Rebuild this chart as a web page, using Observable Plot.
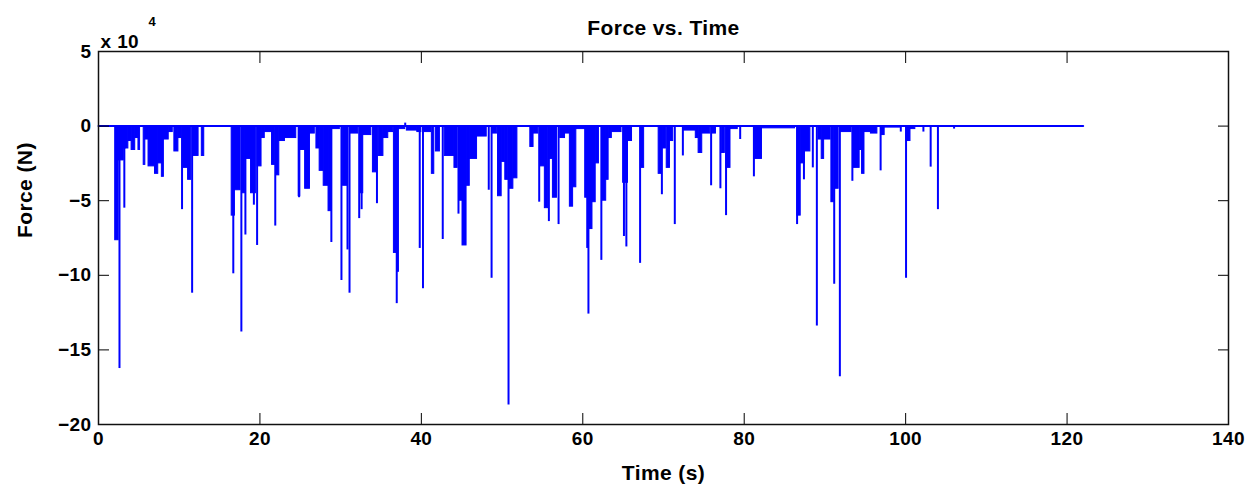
<!DOCTYPE html>
<html>
<head>
<meta charset="utf-8">
<script src="https://cdn.jsdelivr.net/npm/d3@7"></script>
<script src="https://cdn.jsdelivr.net/npm/@observablehq/plot@0.6"></script>
<style>
  html, body { margin: 0; padding: 0; background: #fff; }
  #chart svg { display: block; }
  #chart svg text { font-weight: bold; letter-spacing: 0.4px; }
</style>
</head>
<body>
<div id="chart"></div>
<script>
// Force values are in units of 10^4 N (axis shows "x 10^4")
// Isolated spikes: [time (s), force]
const spikes = [
  [2.6,-16.25],[3.0,-2.3],[3.2,-5.5],[10.35,-5.6],[11.6,-11.2],[16.7,-9.9],[17.7,-13.8],[18.2,-7.3],
  [19.25,-5.3],[19.65,-8.0],[21.9,-6.7],[24.85,-4.8],[28.85,-7.8],[30.1,-10.35],[30.85,-8.3],[31.1,-11.2],
  [32.3,-6.2],[32.6,-5.6],[34.5,-5.2],[36.95,-11.9],[37.1,-9.8],[38.0,0.2],[39.8,-8.2],[40.2,-10.9],
  [42.65,-7.6],[44.6,-5.9],[48.35,-4.3],[48.7,-10.2],[50.8,-18.7],[54.6,-5.1],[55.8,-6.4],[57.0,-6.6],
  [60.55,-8.2],[60.7,-12.6],[62.3,-9.0],[65.1,-7.4],[65.4,-8.1],[67.1,-9.2],[69.8,-4.6],[71.4,-6.6],
  [72.4,-2.0],[75.9,-4.0],[77.05,-4.2],[77.75,-6.0],[79.5,-0.9],[81.2,-3.4],[86.55,-6.6],[87.4,-3.6],
  [88.5,-2.8],[89.0,-13.4],[91.15,-10.6],[91.85,-16.8],[93.4,-3.7],[96.9,-3.0],[99.4,-0.4],[100.05,-10.2],
  [102.2,-0.4],[103.1,-2.75],[104.0,-5.6],[106.0,-0.2]
];
// Dense bursts seen as solid blocks: [start (s), end (s), force]
const bursts = [
  [2.07,2.5,-7.65],[2.5,3.1,-2.3],[3.1,3.35,-1.5],[3.35,3.7,-1.5],[3.7,4.1,-1.0],[4.1,4.55,-1.6],
  [4.55,4.95,-0.8],[4.95,5.15,-1.6],[5.6,5.8,-2.6],[5.8,6.2,-0.9],[6.2,7.0,-2.7],[7.0,7.4,-3.2],
  [7.4,7.85,-2.5],[7.85,8.1,-3.4],[8.1,8.7,-0.9],[8.7,9.2,-0.4],[9.4,9.9,-1.7],[9.9,10.3,-0.8],
  [10.5,11.1,-2.8],[11.1,11.5,-3.6],[11.7,12.4,-2.0],[12.8,13.1,-2.0],[16.5,16.9,-6.0],[16.9,17.6,-4.3],
  [17.8,18.2,-4.5],[18.2,18.9,-2.2],[18.9,19.5,-4.5],[19.7,20.2,-2.7],[20.2,20.6,-0.8],[20.6,21.5,-0.4],
  [21.5,21.9,-2.6],[22.0,22.4,-3.3],[22.4,23.1,-1.0],[23.1,24.5,-0.8],[24.8,25.0,-4.7],[25.0,25.6,-1.6],
  [25.6,26.2,-4.2],[26.2,26.8,-0.5],[27.0,27.4,-1.5],[27.4,27.9,-3.0],[27.9,28.5,-4.0],[28.5,28.8,-5.7],
  [28.8,29.9,-0.2],[30.3,30.9,-4.0],[31.2,32.2,-0.5],[32.4,32.8,-4.5],[32.8,33.8,-0.6],[34.0,34.5,-3.1],
  [34.7,35.3,-2.0],[35.3,35.9,-0.8],[35.9,36.5,-0.4],[36.6,37.1,-8.5],[37.2,38.0,-0.2],[38.2,39.5,-0.3],
  [39.5,40.0,-0.4],[40.3,41.2,-0.4],[41.3,41.6,-3.2],[41.8,42.3,-1.7],[42.9,44.1,-2.0],[44.1,44.5,-2.8],
  [44.7,45.1,-5.0],[45.1,45.6,-8.0],[45.6,46.0,-4.0],[46.0,46.9,-2.2],[46.9,48.1,-0.7],[48.8,49.4,-0.5],
  [49.5,49.95,-4.7],[50.0,50.4,-2.4],[50.4,50.75,-3.6],[50.9,51.4,-4.2],[51.4,51.9,-3.5],[53.5,53.9,-1.4],
  [53.9,54.5,-0.5],[54.7,55.3,-2.7],[55.3,55.7,-5.5],[55.9,56.3,-2.2],[56.3,56.8,-4.8],[57.2,57.8,-0.8],
  [57.8,58.4,-0.5],[58.4,58.8,-5.4],[58.8,59.2,-4.1],[59.2,60.3,-0.2],[60.3,60.6,-4.8],[60.8,61.2,-6.9],
  [61.2,61.6,-5.1],[61.6,62.0,-2.5],[62.4,62.9,-5.0],[62.9,63.2,-3.6],[63.2,63.6,-0.8],[63.6,64.8,-0.4],
  [65.0,65.6,-3.8],[65.6,66.1,-1.0],[67.2,67.6,-2.8],[69.4,69.8,-3.2],[69.9,70.3,-1.5],[70.4,70.8,-2.8],
  [70.8,71.2,-1.0],[72.5,74.0,-0.3],[74.0,74.35,-0.8],[74.35,74.8,-1.8],[74.8,75.8,-0.5],[76.0,76.5,-0.5],
  [77.2,77.6,-1.8],[77.8,78.3,-2.8],[78.3,79.2,-0.2],[81.3,82.2,-2.2],[82.2,86.3,-0.15],[86.6,87.0,-6.0],
  [87.0,87.5,-2.5],[87.5,88.2,-1.7],[89.2,89.6,-0.9],[89.6,89.9,-2.2],[89.9,90.7,-0.9],[90.8,91.1,-5.1],
  [91.2,91.7,-4.2],[91.9,93.3,-0.4],[93.5,94.3,-2.8],[94.3,94.6,-1.6],[94.6,94.9,-3.2],[94.9,95.7,-0.4],
  [95.7,96.5,-0.5],[97.0,97.4,-0.6],[97.4,99.3,-0.1],[100.1,100.6,-1.0],[100.6,101.2,-0.2]
];
// Recording extent (baseline at zero force)
const baseline = [[0, 0], [122, 0]];

const xTicks = [0, 20, 40, 60, 80, 100, 120, 140];
const yTicks = [-20, -15, -10, -5, 0, 5];
const titleText = "Force vs. Time";
const xLabel = "Time (s)";
const yLabel = "Force (N)";
const exponentBase = "x 10";
const exponentPower = "4";

const blue = "#0000ff";
const axisFont = 19;

const chart = Plot.plot({
  width: 1260,
  height: 493,
  marginLeft: 98,
  marginRight: 32,
  marginTop: 51,
  marginBottom: 69,
  style: { fontFamily: "'Liberation Sans', Arial, Helvetica, sans-serif", fontSize: axisFont + "px", color: "#000", background: "#fff" },
  x: { domain: [0, 140] },
  y: { domain: [-20, 5] },
  marks: [
    Plot.rect(bursts, { x1: d => d[0], x2: d => d[1], y1: 0, y2: d => d[2], fill: blue, stroke: blue, strokeWidth: 1 }),
    Plot.ruleX(spikes, { x: d => d[0], y1: 0, y2: d => d[1], stroke: blue, strokeWidth: 2 }),
    Plot.line(baseline, { x: d => d[0], y: d => d[1], stroke: blue, strokeWidth: 2 }),
    // inward ticks, all four sides
    Plot.axisX({ anchor: "bottom", ticks: xTicks, tickSize: 11, dy: -11, tickPadding: 7, label: null, fontSize: axisFont }),
    Plot.axisX({ anchor: "top", ticks: xTicks, tickSize: 11, dy: 11, tickFormat: () => "", label: null }),
    Plot.axisY({ anchor: "left", ticks: yTicks, tickSize: 11, dx: 11, tickPadding: 7, label: null, fontSize: axisFont }),
    Plot.axisY({ anchor: "right", ticks: yTicks, tickSize: 11, dx: -11, tickFormat: () => "", label: null }),
    Plot.frame({ stroke: "#111", strokeWidth: 1.5 }),
    Plot.text([titleText], { text: d => d, frameAnchor: "top", dy: -31, fontSize: 21 }),
    Plot.text([xLabel], { text: d => d, frameAnchor: "bottom", dy: 55, fontSize: 21 }),
    Plot.text([yLabel], { text: d => d, frameAnchor: "left", dx: -73, rotate: -90, fontSize: 21 }),
    Plot.text([exponentBase], { text: d => d, frameAnchor: "top-left", textAnchor: "start", dx: 2, dy: -17, fontSize: 19 }),
    Plot.text([exponentPower], { text: d => d, frameAnchor: "top-left", textAnchor: "start", dx: 50, dy: -35, fontSize: 13 })
  ]
});
document.getElementById("chart").appendChild(chart);
</script>
</body>
</html>
